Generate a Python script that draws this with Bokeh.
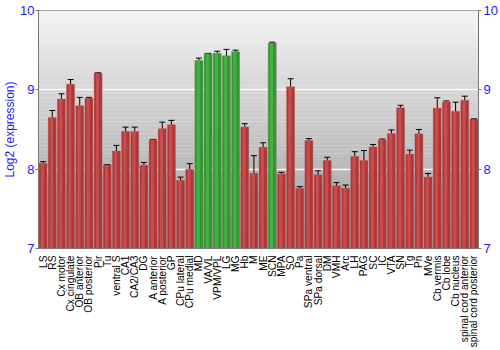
from bokeh.plotting import figure
from bokeh.models import ColumnDataSource, Whisker, BoxAnnotation, LinearAxis, FixedTicker, TeeHead
from bokeh.transform import dodge
from bokeh.embed import file_html
from bokeh.resources import INLINE
import math

regions = ["LS", "RS", "Cx motor", "Cx cingulate", "OB anterior", "OB posterior", "Pir", "Tu",
           "ventral S", "CA1", "CA2/CA3", "DG", "A anterior", "A posterior", "GP", "CPu lateral",
           "CPu medial", "MD", "VA/VL", "VPM/VPL", "LG", "MG", "Hb", "M", "ME", "SCN", "MPA", "SO",
           "Pa", "SPa ventral", "SPa dorsal", "DM", "VMH", "Arc", "LH", "PAG", "SC", "IC", "VTA",
           "SN", "Tg", "Pn", "MVe", "Cb vermis", "Cb lobe", "Cb nucleus", "spinal cord anterior",
           "spinal cord posterior"]
expression = [8.075, 8.65, 8.883, 9.07, 8.80, 8.895, 9.21, 8.054,
              8.23, 8.475, 8.475, 8.05, 8.37, 8.51, 8.56, 7.86,
              8.00, 9.37, 9.455, 9.46, 9.43, 9.48, 8.533, 7.95, 8.275, 9.59, 7.94, 9.04,
              7.76, 8.36, 7.93, 8.11, 7.79, 7.76, 8.16, 8.11, 8.28, 8.37, 8.45,
              8.775, 8.19, 8.445, 7.90, 8.77, 8.85, 8.73, 8.87,
              8.63]
error = [0.02, 0.09, 0.067, 0.06, 0.105, 0.01, 0.005, 0.004,
         0.07, 0.055, 0.055, 0.035, 0.005, 0.083, 0.055, 0.04,
         0.07, 0.03, 0.004, 0.027, 0.08, 0.02, 0.04, 0.22, 0.058, 0.01, 0.02, 0.10,
         0.02, 0.025, 0.05, 0.04, 0.04, 0.04, 0.06, 0.125, 0.03, 0.01, 0.045,
         0.03, 0.05, 0.055, 0.045, 0.13, 0.01, 0.115, 0.05,
         0.005]
highlighted = ["MD", "VA/VL", "VPM/VPL", "LG", "MG", "SCN"]
y_ticks = [7, 8, 9, 10]
y_title = "Log2 (expression)"

base_col = ["#2e9a2e" if r in highlighted else "#b33636" for r in regions]
hi_col = ["#55c455" if r in highlighted else "#d66262" for r in regions]
src = ColumnDataSource(dict(
    x=regions, top=expression,
    upper=[v + e for v, e in zip(expression, error)],
    lower=[v - e for v, e in zip(expression, error)],
    base_col=base_col, hi_col=hi_col))

p = figure(x_range=regions, y_range=(7, 10), width=500, height=350,
           output_backend="svg", toolbar_location=None,
           min_border_left=35, min_border_right=21, min_border_top=10, min_border_bottom=100)
p.x_range.range_padding = 0

# gradient background
n = 60
for i in range(n):
    t = i / (n - 1)
    c0, c1 = 0x9c, 0xf3
    g = int(round(c0 + (c1 - c0) * t))
    p.add_layout(BoxAnnotation(bottom=7 + 3 * i / n, top=7 + 3 * (i + 1) / n + 0.002,
                               fill_color="#%02x%02x%02x" % (g, g, g), fill_alpha=1,
                               line_color=None, level="image"))

p.vbar(x="x", top="top", bottom=7, width=0.88, source=src,
       fill_color="base_col", line_color="#9a6a6a", line_alpha=0.6, line_width=0.6)
p.vbar(x=dodge("x", -0.08, range=p.x_range), top="top", bottom=7, width=0.34, source=src,
       fill_color="hi_col", fill_alpha=0.55, line_color=None)

w = Whisker(base="x", upper="upper", lower="lower", source=src, line_color="black",
            line_width=1,
            upper_head=TeeHead(size=6, line_color="black", line_width=1),
            lower_head=TeeHead(size=6, line_color="black", line_width=1))
p.add_layout(w)

p.xgrid.grid_line_color = None
p.ygrid.grid_line_color = "white"
p.ygrid.grid_line_width = 1.5
p.ygrid.grid_line_alpha = 0.9
p.ygrid.ticker = FixedTicker(ticks=y_ticks)

p.outline_line_color = "#777777"

p.yaxis.ticker = FixedTicker(ticks=y_ticks)
p.yaxis.axis_label = y_title
p.yaxis.axis_label_text_color = "#1a1aff"
p.yaxis.axis_label_text_font = "Liberation Sans"
p.yaxis.axis_label_text_font_style = "normal"
p.yaxis.axis_label_text_font_size = "12px"
p.yaxis.axis_label_standoff = 0
p.yaxis.major_label_text_color = "#1a1aff"
p.yaxis.major_label_text_font = "Liberation Sans"
p.yaxis.major_label_text_font_size = "13px"
p.yaxis.major_label_standoff = 1
p.yaxis.axis_line_color = "#777777"
p.yaxis.major_tick_line_color = "#777777"
p.yaxis.major_tick_out = 3
p.yaxis.major_tick_in = 0
p.yaxis.minor_tick_line_color = None

ry = LinearAxis(ticker=FixedTicker(ticks=y_ticks))
ry.major_label_text_color = "#1a1aff"
ry.major_label_text_font = "Liberation Sans"
ry.major_label_text_font_size = "13px"
ry.major_label_standoff = 2
ry.axis_line_color = "#777777"
ry.major_tick_line_color = "#777777"
ry.major_tick_out = 3
ry.major_tick_in = 0
ry.minor_tick_line_color = None
p.add_layout(ry, "right")

p.xaxis.major_label_orientation = math.pi / 2
p.xaxis.major_label_text_font = "Liberation Sans"
p.xaxis.major_label_text_font_size = "10.2px"
p.xaxis.major_label_text_color = "black"
p.xaxis.major_label_standoff = 1
p.xaxis.major_tick_line_color = None
p.xaxis.axis_line_color = None

open("out.html", "w").write(file_html(p, INLINE))
